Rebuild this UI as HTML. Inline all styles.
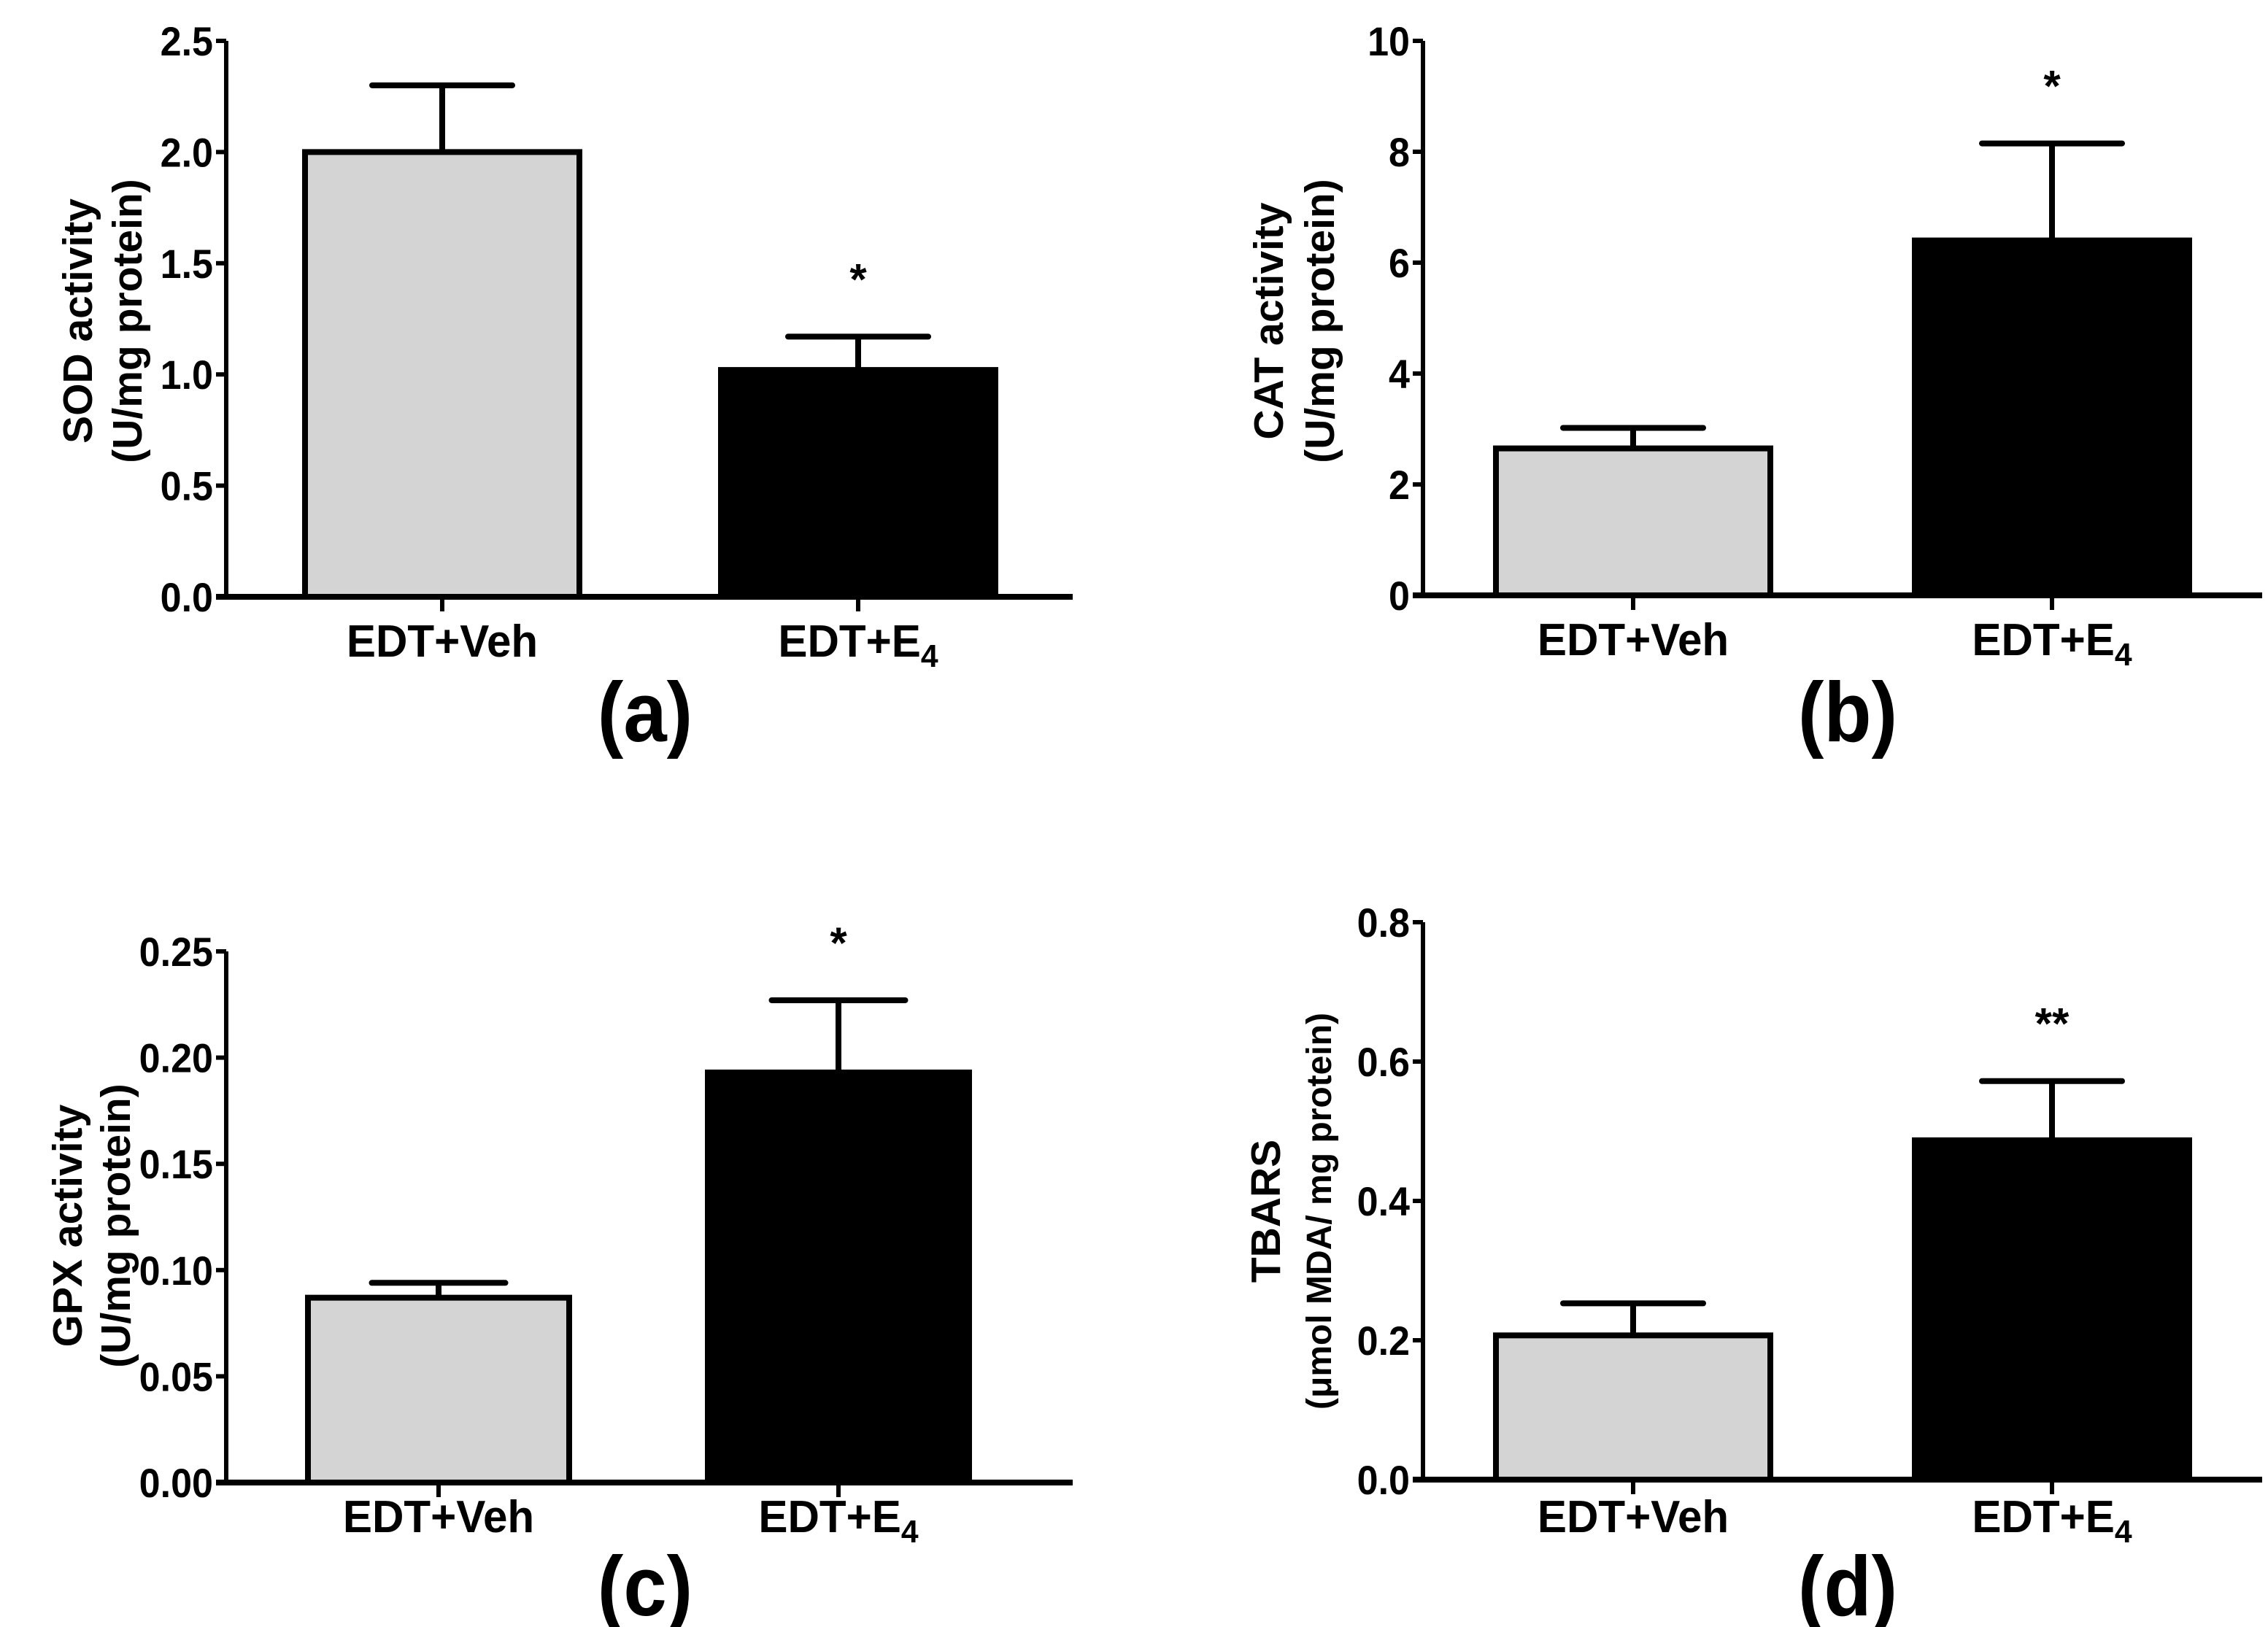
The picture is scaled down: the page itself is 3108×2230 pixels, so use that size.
<!DOCTYPE html>
<html><head><meta charset="utf-8"><style>
html,body{margin:0;padding:0;background:#fff}
svg{display:block}
text{font-family:"Liberation Sans Narrow","Liberation Sans",sans-serif;font-weight:bold;fill:#000}
.yl{font-family:"Liberation Sans",sans-serif;font-weight:bold}
</style></head><body>
<svg id="fig" width="3108" height="2230" viewBox="0 0 3108 2230" xmlns="http://www.w3.org/2000/svg"></svg>
<script>
const categories = ["EDT+Veh", "EDT+E4"];
const sodMeans = [2.0, 1.02];
const sodErr = [2.30, 1.17];
const catMeans = [2.65, 6.4];
const catErr = [3.02, 8.15];
const gpxMeans = [0.087, 0.193];
const gpxErr = [0.094, 0.227];
const tbarsMeans = [0.207, 0.487];
const tbarsErr = [0.253, 0.572];
const sodTicks = [0, 0.5, 1.0, 1.5, 2.0, 2.5];
const catTicks = [0, 2, 4, 6, 8, 10];
const gpxTicks = [0, 0.05, 0.10, 0.15, 0.20, 0.25];
const tbarsTicks = [0, 0.2, 0.4, 0.6, 0.8];
const sodSig = ["", "*"];
const catSig = ["", "*"];
const gpxSig = ["", "*"];
const tbarsSig = ["", "**"];

const NS = "http://www.w3.org/2000/svg";
const svg = document.getElementById("fig");
function mk(tag, attrs, parent) {
  const e = document.createElementNS(NS, tag);
  for (const k in attrs) e.setAttribute(k, attrs[k]);
  (parent || svg).appendChild(e);
  return e;
}
function ntext(parent, x, y, anchor, size, sx) {
  return mk("text", {x: 0, y: 0, transform: `translate(${x},${y}) scale(${sx},1)`, "text-anchor": anchor, "font-size": size}, parent);
}
function panel(p) {
  const g = mk("g", {});
  
  
  const ymax = p.ticks[p.ticks.length - 1];
  const Y = v => p.yBot - (v / ymax) * (p.yBot - p.yTop);
  const X = i => p.centers[i];
  p.means.forEach((m, i) => {
    const top = Y(m);
    const eb = mk("line", {x1: X(i), x2: X(i), y1: top, y2: Y(p.err[i]), stroke: "#000", "stroke-width": 8}, g);
    
    
    const cap = mk("line", {x1: X(i) - p.half * 0.5, x2: X(i) + p.half * 0.5, y1: Y(p.err[i]), y2: Y(p.err[i]), stroke: "#000", "stroke-width": 8, "stroke-linecap": "round"}, g);
    
    
    const r = mk("rect", {x: X(i) - p.half + 4, y: top, width: 2 * p.half - 8, height: p.yBot - top, fill: i === 0 ? "#d4d4d4" : "#000", stroke: "#000", "stroke-width": 8}, g);
    
    
    if (p.sig[i]) {
      const s = mk("text", {x: X(i), y: Y(p.err[i]) - 58, "text-anchor": "middle", "font-size": 60}, g);
      s.textContent = p.sig[i];
      
      
    }
  });
  const ya = mk("line", {x1: p.x0, x2: p.x0, y1: p.yTop, y2: p.yBot + 4, stroke: "#000", "stroke-width": 6}, g);
  
  
  const xa = mk("line", {x1: p.x0 - 14, x2: p.xEnd, y1: p.yBot, y2: p.yBot, stroke: "#000", "stroke-width": 8}, g);
  
  
  p.ticks.forEach(t => {
    mk("line", {x1: p.x0 - 14, x2: p.x0, y1: Y(t), y2: Y(t), stroke: "#000", "stroke-width": 6}, g);
    const tl = ntext(g, p.x0 - 18, Y(t) + 20, "end", 56, 0.93);
    tl.textContent = t.toFixed(p.dec);
    
    
  });
  categories.forEach((c, i) => {
    mk("line", {x1: X(i), x2: X(i), y1: p.yBot, y2: p.yBot + 20, stroke: "#000", "stroke-width": 6}, g);
    const tl = ntext(g, X(i), p.labY, "middle", 62, 0.97);
    
    
    if (c === "EDT+E4") {
      tl.appendChild(document.createTextNode("EDT+E"));
      const sub = mk("tspan", {"font-size": 44, dy: 14}, tl);
      sub.textContent = "4";
    } else tl.textContent = c;
  });
  const yl = mk("text", {transform: `translate(${p.ylx1},${p.ylc}) rotate(-90)`, "text-anchor": "middle", "font-size": 57, class: "yl"}, g);
  yl.textContent = p.yl1;
  
  
  const yl2 = mk("text", {transform: `translate(${p.ylx2},${p.ylc}) rotate(-90)`, "text-anchor": "middle", "font-size": p.yl2size, class: "yl"}, g);
  yl2.textContent = p.yl2;
  
  
  const pl = ntext(g, p.plx, p.plY, "middle", 116, 0.92);
  pl.textContent = p.label;
  
  
}
panel({name: "panel-a-sod", means: sodMeans, err: sodErr, ticks: sodTicks, sig: sodSig, dec: 1,
  x0: 310, xEnd: 1470, yTop: 56, yBot: 818, centers: [606, 1176], half: 192, labY: 900, plY: 1016, plx: 884,
  yl1: "SOD activity", yl2: "(U/mg protein)", yl2size: 57, ylx1: 126, ylx2: 194, ylc: 440, label: "(a)"});
panel({name: "panel-b-cat", means: catMeans, err: catErr, ticks: catTicks, sig: catSig, dec: 0,
  x0: 1950, xEnd: 3100, yTop: 56, yBot: 816, centers: [2238, 2812], half: 192, labY: 898, plY: 1016, plx: 2532,
  yl1: "CAT activity", yl2: "(U/mg protein)", yl2size: 57, ylx1: 1758, ylx2: 1828, ylc: 440, label: "(b)"});
panel({name: "panel-c-gpx", means: gpxMeans, err: gpxErr, ticks: gpxTicks, sig: gpxSig, dec: 2,
  x0: 310, xEnd: 1470, yTop: 1304, yBot: 2032, centers: [601, 1149], half: 183, labY: 2100, plY: 2214, plx: 884,
  yl1: "GPX activity", yl2: "(U/mg protein)", yl2size: 57, ylx1: 112, ylx2: 178, ylc: 1680, label: "(c)"});
panel({name: "panel-d-tbars", means: tbarsMeans, err: tbarsErr, ticks: tbarsTicks, sig: tbarsSig, dec: 1,
  x0: 1950, xEnd: 3100, yTop: 1264, yBot: 2028, centers: [2238, 2812], half: 192, labY: 2100, plY: 2214, plx: 2532,
  yl1: "TBARS", yl2: "(\u03bcmol MDA/ mg protein)", yl2size: 48, ylx1: 1754, ylx2: 1824, ylc: 1660, label: "(d)"});
</script>
</body></html>
